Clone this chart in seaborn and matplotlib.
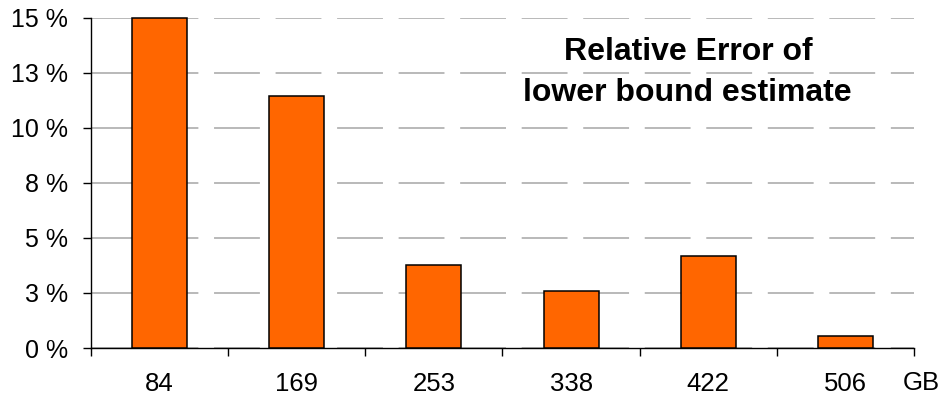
import matplotlib
matplotlib.use("Agg")
import matplotlib.pyplot as plt
import seaborn as sns
import pandas as pd

# Data
sizes_gb = ["84", "169", "253", "338", "422", "506"]
relative_error_pct = [15.0, 11.42, 3.78, 2.57, 4.18, 0.53]
y_ticks = [0, 2.5, 5, 7.5, 10, 12.5, 15]
y_tick_labels = ["0 %", "3 %", "5 %", "8 %", "10 %", "13 %", "15 %"]
title_lines = ["Relative Error of", "lower bound estimate"]
unit_label = "GB"

sns.set_theme(style="white")
plt.rcParams["font.family"] = ["Liberation Sans", "DejaVu Sans"]
plt.rcParams["lines.scale_dashes"] = False

df = pd.DataFrame({"size": sizes_gb, "error": relative_error_pct})

W, H = 940, 401
fig = plt.figure(figsize=(W / 100, H / 100), dpi=100)
ax = fig.add_axes([91 / W, (H - 348) / H, (914 - 91) / W, (348 - 17.5) / H])

sns.barplot(data=df, x="size", y="error", ax=ax, color="#FF6600",
            saturation=1, width=0.40, edgecolor="black", linewidth=1.1,
            zorder=3)
for p in ax.patches:
    p.set_clip_on(False)

ax.set_xlim(-0.5, len(sizes_gb) - 0.5)
ax.set_ylim(0, 15)

# dashed horizontal grid
ax.set_yticks(y_ticks)
ax.set_yticklabels(y_tick_labels, fontsize=18)
ax.yaxis.grid(True, color="#b3b3b3", linewidth=1.3,
              linestyle=(0, (33, 11.3)), zorder=0)
ax.xaxis.grid(False)
ax.set_axisbelow(True)

# category labels centred, tick marks on category boundaries
ax.set_xticks(range(len(sizes_gb)))
ax.set_xticklabels(sizes_gb, fontsize=18.5)
ax.set_xticks([i - 0.5 for i in range(len(sizes_gb) + 1)], minor=True)
ax.tick_params(axis="x", which="major", length=0, pad=17.5, colors="black")
ax.tick_params(axis="x", which="minor", length=6, width=1, color="black",
               direction="out", bottom=True)
ax.tick_params(axis="y", which="major", length=6, width=1, color="black",
               direction="out", left=True, pad=10.5, labelcolor="black")

ax.set_xlabel("")
ax.set_ylabel("")
for side in ("top", "right"):
    ax.spines[side].set_visible(False)
for side in ("left", "bottom"):
    ax.spines[side].set_color("black")
    ax.spines[side].set_linewidth(1.0)

ax.text(921 / W, 1 - 390 / H, unit_label, transform=fig.transFigure,
        ha="center", va="baseline", fontsize=18.5, color="black")

ax.text(688 / W, 1 - 60 / H, title_lines[0], transform=fig.transFigure,
        ha="center", va="baseline", fontsize=23, fontweight="bold", color="black")
ax.text(687 / W, 1 - 101 / H, title_lines[1], transform=fig.transFigure,
        ha="center", va="baseline", fontsize=23, fontweight="bold", color="black")

fig.savefig("out.png", dpi=100, facecolor="white")
